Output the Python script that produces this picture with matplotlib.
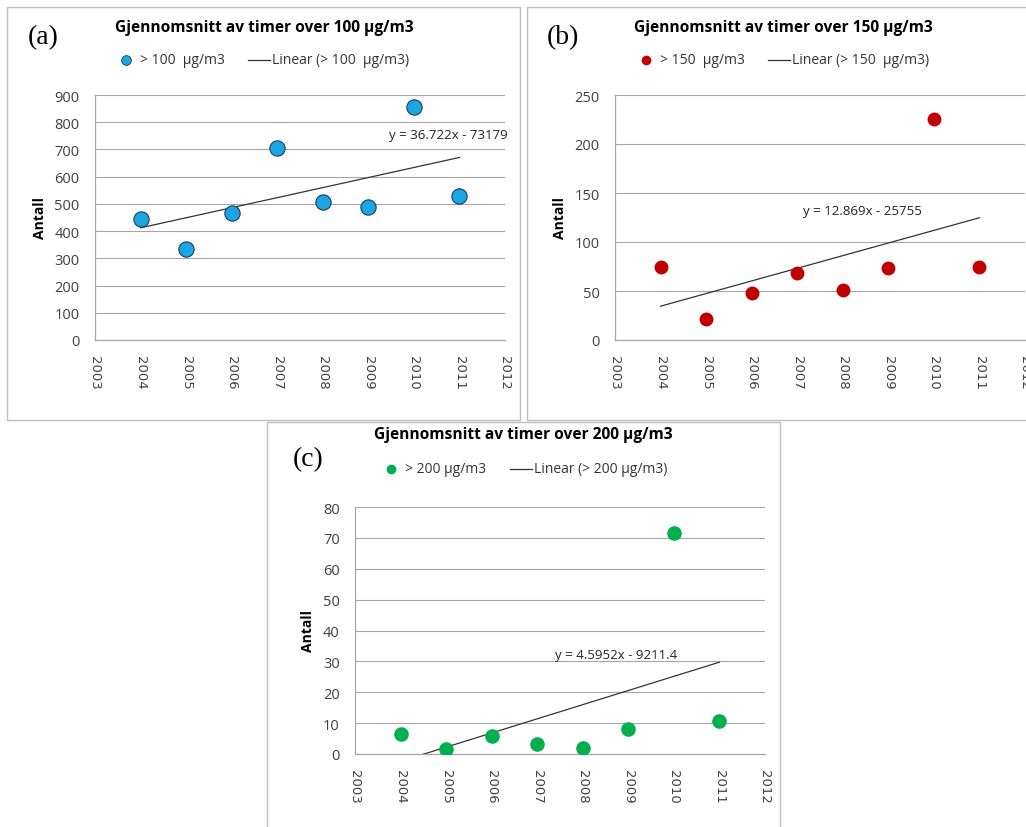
import numpy as np
import matplotlib
matplotlib.use("Agg")
import matplotlib.pyplot as plt
from matplotlib.patches import Rectangle
from matplotlib.lines import Line2D

years = [2004, 2005, 2006, 2007, 2008, 2009, 2010, 2011]
over100 = [443, 333, 466, 705, 507, 490, 857, 530]
over150 = [75, 21, 48, 68, 51, 73, 226, 75]
over200 = [6.5, 1.7, 5.8, 3.2, 1.8, 8.0, 71.7, 10.8]

titles = ["Gjennomsnitt av timer over 100 µg/m3",
          "Gjennomsnitt av timer over 150 µg/m3",
          "Gjennomsnitt av timer over 200 µg/m3"]
labels = ["(a)", "(b)", "(c)"]
series_labels = ["> 100  µg/m3", "> 150  µg/m3", "> 200 µg/m3"]
trend_labels = ["Linear (> 100  µg/m3)", "Linear (> 150  µg/m3)", "Linear (> 200 µg/m3)"]
equations = ["y = 36.722x - 73179", "y = 12.869x - 25755", "y = 4.5952x - 9211.4"]
yticks_list = [list(range(0, 901, 100)), list(range(0, 251, 50)), list(range(0, 81, 10))]
xticks = list(range(2003, 2013))

W, H = 1026, 828
fig = plt.figure(figsize=(W / 100, H / 100), dpi=100)
fig.patch.set_facecolor("white")

def fx(px):
    return px / W

def fy(py):
    return 1 - py / H

# panel boxes (pixels: x0, y0, x1, y1)
boxes = [(7, 8, 520, 421), (527, 8, 1030, 421), (267, 423, 780, 835)]
for (x0, y0, x1, y1) in boxes:
    fig.patches.append(Rectangle((fx(x0), fy(y1)), fx(x1 - x0), (y1 - y0) / H,
                                 transform=fig.transFigure, fill=False,
                                 edgecolor="#BFBFBF", linewidth=1.0, zorder=0))

# axes pixel geometry: left, top, right, bottom
axgeo = [(95, 96, 505, 341), (615, 96, 1025, 341), (355, 508, 765, 755)]
colors = ["#1CA5E3", "#C00000", "#00B050"]
edges = ["#1F3B5A", "#C00000", "#00B050"]
msizes = [11, 10, 10.5]
data = [over100, over150, over200]
eqpos = [(448, 136), (862, 212), (616, 656)]
panel_lab = [(43, 38), (563, 38), (308, 460)]
title_pos = [(264, 28), (783, 28), (523, 435)]
leg_y = [61, 61, 470]
leg_x = [(126, 248), (646, 768), (391, 510)]
ylab_x = [40, 560, 308]

for i in range(3):
    l, t, r, b = axgeo[i]
    ax = fig.add_axes([fx(l), fy(b), (r - l) / W, (b - t) / H])
    ys = np.array(data[i], dtype=float)
    xs = np.array(years, dtype=float)
    coef = np.polyfit(xs, ys, 1)
    xl = np.array([years[0], years[-1]], dtype=float)
    ax.plot(xl, np.polyval(coef, xl), color="#333333", linewidth=0.9, zorder=2)
    ax.plot(xs, ys, linestyle="none", marker="o", markersize=msizes[i],
            markerfacecolor=colors[i], markeredgecolor=edges[i],
            markeredgewidth=0.8 if i == 0 else 0, zorder=3)
    yt = yticks_list[i]
    ax.set_xlim(xticks[0], xticks[-1])
    ax.set_ylim(yt[0], yt[-1])
    ax.set_yticks(yt)
    ax.set_xticks(xticks)
    ax.set_xticklabels([str(x) for x in xticks], rotation=-90, fontsize=9.5,
                       color="#404040", family="DejaVu Sans")
    ax.set_yticklabels([str(v) for v in yt], fontsize=10.5, color="#404040",
                       family="Open Sans")
    ax.tick_params(length=0)
    ax.tick_params(axis="y", pad=11)
    ax.tick_params(axis="x", pad=11)
    ax.grid(axis="y", color="#A6A6A6", linewidth=0.8)
    ax.set_axisbelow(True)
    for s in ["top", "right"]:
        ax.spines[s].set_visible(False)
    for s in ["left", "bottom"]:
        ax.spines[s].set_color("#A6A6A6")
        ax.spines[s].set_linewidth(0.9)
    ax.set_facecolor("white")

    fig.text(fx(ylab_x[i]), fy((t + b) / 2), "Antall", rotation=90, fontsize=10,
             fontweight="bold", ha="center", va="center", family="Open Sans")
    fig.text(fx(eqpos[i][0]), fy(eqpos[i][1]), equations[i], fontsize=9.5,
             ha="center", va="center", family="Open Sans", color="#222222")
    fig.text(fx(panel_lab[i][0]), fy(panel_lab[i][1]), labels[i], fontsize=20,
             ha="center", va="center", family="Liberation Serif")
    fig.text(fx(title_pos[i][0]), fy(title_pos[i][1]), titles[i], fontsize=11.2,
             fontweight="bold", ha="center", va="center", family="Open Sans")
    # legend
    mx, lx = leg_x[i]
    ly = leg_y[i]
    fig.lines.append(Line2D([fx(mx)], [fy(ly)], transform=fig.transFigure,
                            marker="o", markersize=7, linestyle="none",
                            markerfacecolor=colors[i], markeredgecolor=edges[i],
                            markeredgewidth=0.6 if i == 0 else 0))
    fig.text(fx(mx + 14), fy(ly), series_labels[i], fontsize=10, ha="left",
             va="center", family="Open Sans", color="#333333")
    fig.lines.append(Line2D([fx(lx), fx(lx + 22)], [fy(ly), fy(ly)],
                            transform=fig.transFigure, color="#333333", linewidth=0.9))
    fig.text(fx(lx + 24), fy(ly), trend_labels[i], fontsize=10, ha="left",
             va="center", family="Open Sans", color="#333333")

fig.savefig("out.png", dpi=100)
